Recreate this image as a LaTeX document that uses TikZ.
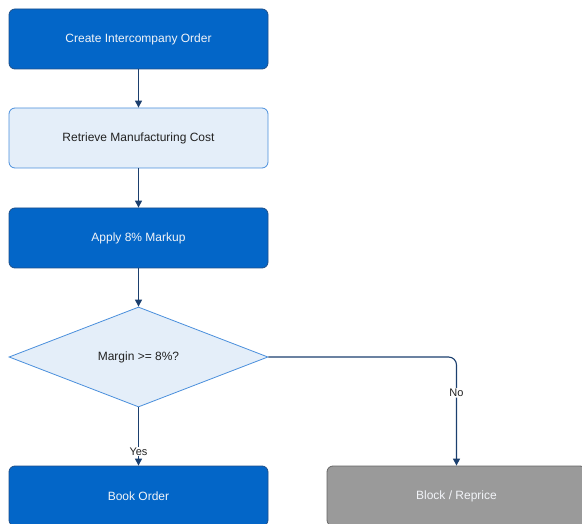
\documentclass[tikz,border=0pt]{standalone}
\usepackage{fontspec}
\setmainfont{Liberation Sans}
\usetikzlibrary{shapes.geometric,arrows.meta}
\definecolor{darkfill}{HTML}{0366C8}
\definecolor{darkline}{HTML}{1D4F8A}
\definecolor{lightfill}{HTML}{E4EEF9}
\definecolor{lightline}{HTML}{4A8FDC}
\definecolor{grayfill}{HTML}{9A9A9A}
\definecolor{grayline}{HTML}{666666}
\definecolor{edgecol}{HTML}{1B3F6E}
\definecolor{whitetext}{HTML}{F2F4F8}
\definecolor{darktext}{HTML}{222222}
\tikzset{
  base/.style={rounded corners=6pt, minimum width=259pt, minimum height=60pt, inner sep=0pt, line width=0.8pt, font=\fontsize{12}{14}\selectfont},
  darkbox/.style={base, fill=darkfill, draw=darkline, text=whitetext},
  lightbox/.style={base, fill=lightfill, draw=lightline, text=darktext},
  graybox/.style={base, fill=grayfill, draw=grayline, text=whitetext},
  decision/.style={diamond, aspect=2.59, minimum width=259pt, minimum height=100pt, inner sep=0pt, fill=lightfill, draw=lightline, line width=0.8pt, text=darktext, font=\fontsize{12}{14}\selectfont},
  conn/.style={draw=edgecol, line width=1.1pt, -{Triangle[length=7pt,width=7pt]}},
  elabel/.style={fill=white, inner sep=1pt, text=darktext, font=\fontsize{11}{13}\selectfont}
}
\begin{document}
\begin{tikzpicture}[x=1pt, y=-1pt]
\useasboundingbox (0,0) rectangle (582,524);
\node[darkbox] (create) at (138.5,39) {Create Intercompany Order};
\node[lightbox] (retrieve) at (138.5,138) {Retrieve Manufacturing Cost};
\node[darkbox] (markup) at (138.5,238) {Apply 8\% Markup};
\node[decision] (margin) at (138.5,357) {Margin >= 8\%?};
\node[darkbox] (book) at (138.5,496) {Book Order};
\node[graybox] (block) at (456.5,496) {Block / Reprice};
\draw[conn] (create) -- (retrieve);
\draw[conn] (retrieve) -- (markup);
\draw[conn] (markup) -- (margin);
\draw[conn] (margin) -- node[elabel, pos=0.76] {Yes} (book);
\draw[conn, rounded corners=8pt] (margin.east) -| node[elabel, pos=0.665] {No} (block.north);
\end{tikzpicture}
\end{document}
